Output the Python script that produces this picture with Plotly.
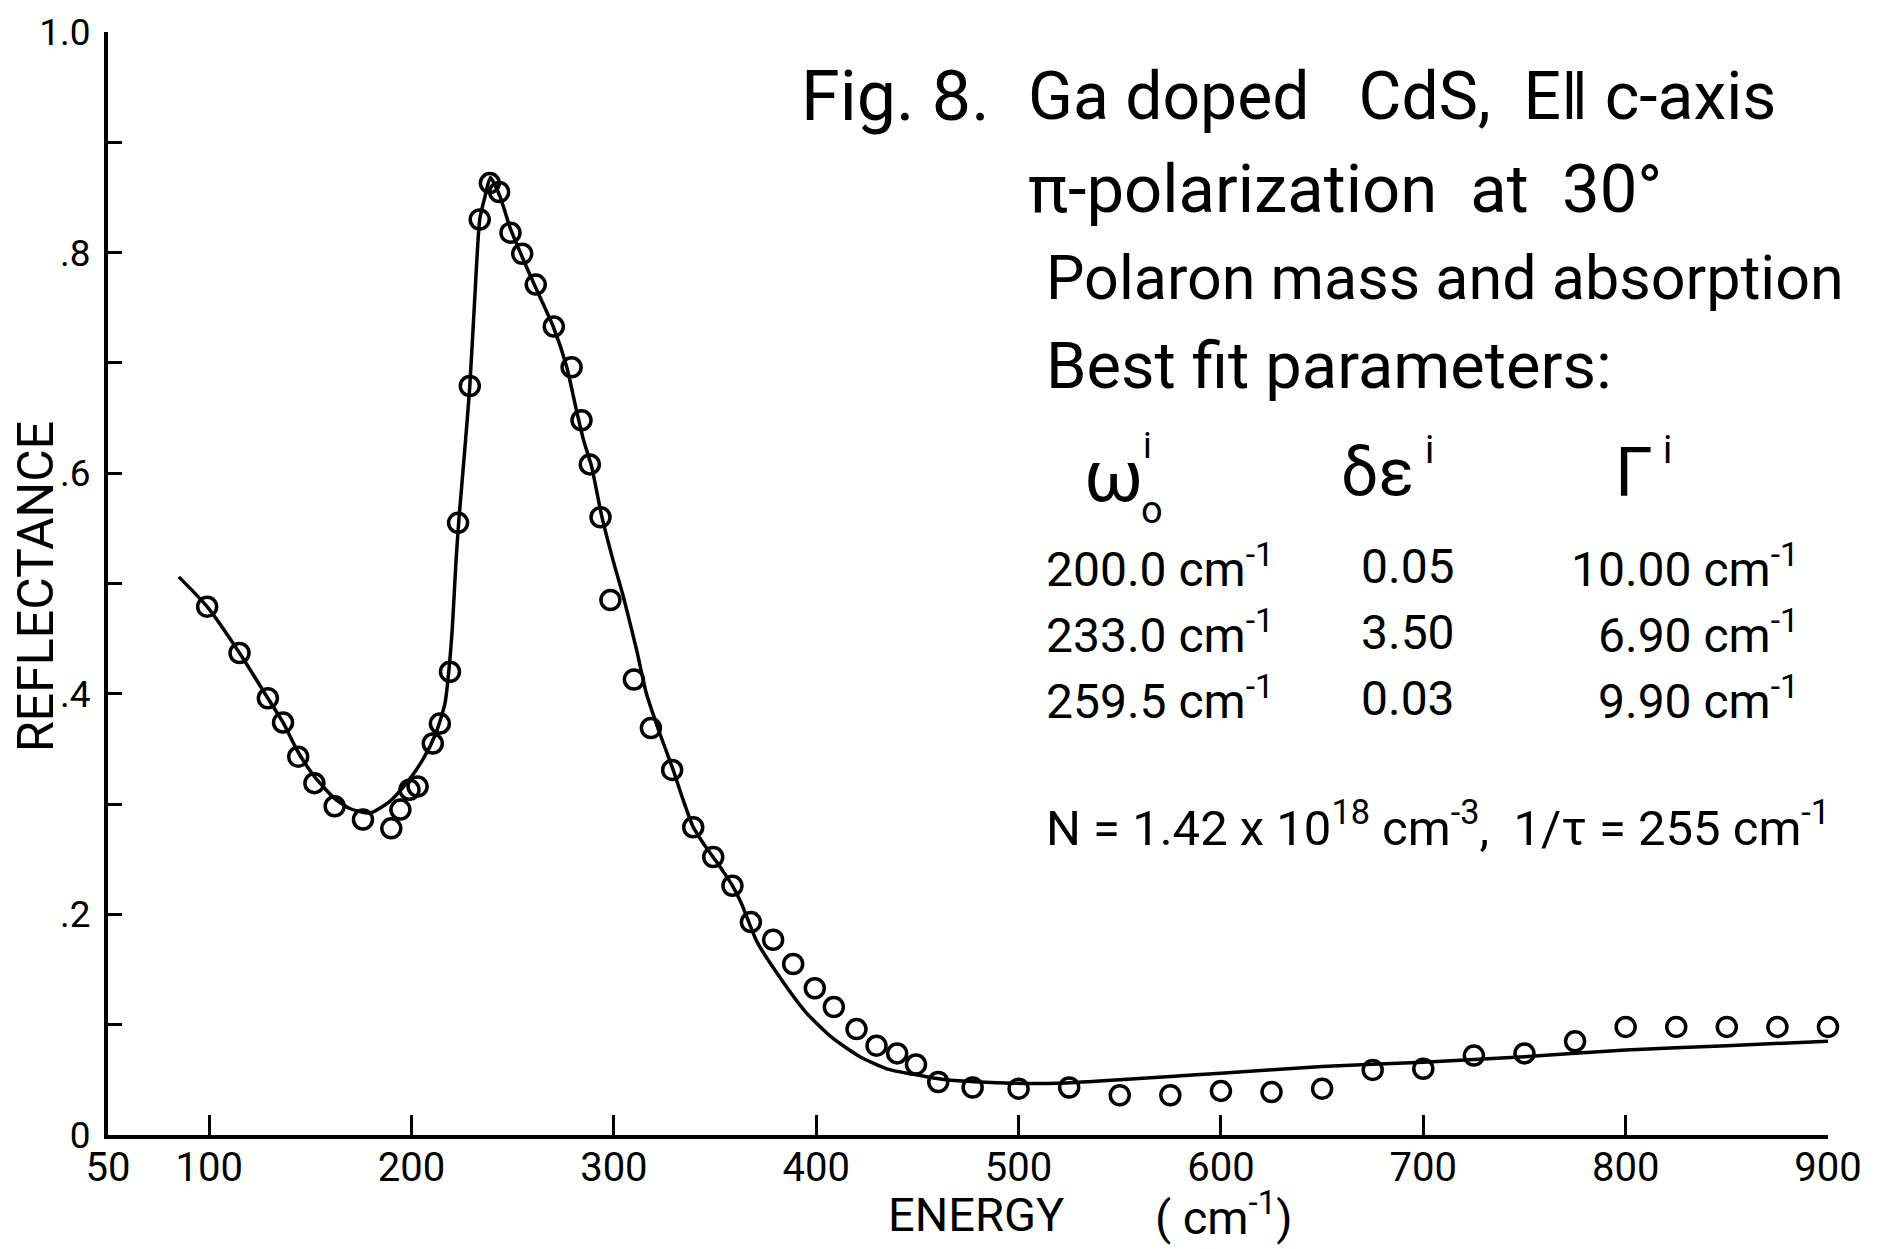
import plotly.graph_objects as go

# ---------------- data ----------------
meas_energy = [99, 115, 129, 136.5, 144, 152, 162, 176, 190, 194.5, 199, 203,
               210.5, 214, 219, 223, 228.8, 233.7, 238.7, 243.3, 248.9, 254.7,
               261.4, 270.3, 279.1, 284, 288.1, 293.4, 298.3, 309.9, 318.3,
               328.8, 339.2, 349.1, 358.6, 367.7, 378.7, 388.6, 399.3, 408.7,
               419.9, 429.8, 440, 449.3, 460.3, 477.3, 500, 525, 550, 575, 600,
               625, 650, 675, 700, 725, 750, 775, 800, 825, 850, 875, 900]
meas_refl = [0.479, 0.437, 0.396, 0.374, 0.343, 0.319, 0.298, 0.286, 0.278,
             0.295, 0.313, 0.316, 0.355, 0.373, 0.420, 0.555, 0.679, 0.830,
             0.863, 0.855, 0.818, 0.799, 0.771, 0.733, 0.696, 0.648, 0.608,
             0.560, 0.485, 0.413, 0.369, 0.331, 0.279, 0.252, 0.226, 0.193,
             0.177, 0.155, 0.133, 0.116, 0.096, 0.081, 0.074, 0.064, 0.048,
             0.043, 0.042, 0.043, 0.036, 0.036, 0.040, 0.039, 0.042, 0.059,
             0.060, 0.072, 0.074, 0.085, 0.098, 0.098, 0.098, 0.098, 0.098]

fit_energy = [85, 99, 115, 129, 136.5, 144, 152, 162, 169.5, 179.5, 189, 197.5,
              205.5, 212, 216.5, 218.5, 220.2, 222, 223.5, 226.3, 228.8, 231.2,
              233.7, 236.2, 239, 243.7, 249, 254.7, 261.4, 270, 276.6, 281.5,
              285, 289, 294, 299.6, 304.7, 311.2, 316.1, 322.7, 329.3, 334,
              339, 344, 349, 354, 358.6, 363, 370.5, 382, 395, 408, 421.6,
              434.8, 448, 464, 481, 497, 519, 540, 575, 600, 650, 700, 750,
              800, 850, 900]
fit_refl = [0.506, 0.479, 0.437, 0.396, 0.374, 0.347, 0.325, 0.305, 0.296,
            0.292, 0.302, 0.319, 0.340, 0.364, 0.391, 0.422, 0.461, 0.521,
            0.560, 0.621, 0.679, 0.757, 0.830, 0.850, 0.868, 0.851, 0.821,
            0.796, 0.768, 0.733, 0.697, 0.657, 0.630, 0.606, 0.561, 0.521,
            0.488, 0.440, 0.400, 0.364, 0.331, 0.305, 0.280, 0.265, 0.252,
            0.239, 0.226, 0.210, 0.176, 0.143, 0.111, 0.088, 0.071, 0.060,
            0.055, 0.050, 0.048, 0.047, 0.047, 0.049, 0.053, 0.056, 0.062,
            0.066, 0.071, 0.077, 0.081, 0.085]

x_tickvals = [50, 100, 200, 300, 400, 500, 600, 700, 800, 900]
x_ticktext = ["50", "100", "200", "300", "400", "500", "600", "700", "800", "900"]
y_tickvals = [0, 0.2, 0.4, 0.6, 0.8, 1.0]
y_ticktext = ["0", ".2", ".4", ".6", ".8", "1.0"]
y_minor_vals = [0.1, 0.3, 0.5, 0.7, 0.9]

fig_label = "Fig. 8."
title_lines = ["Ga doped&nbsp;&nbsp; CdS,&nbsp; E\u2016 c-axis",
               "\u03c0-polarization&nbsp; at&nbsp; 30\u00b0",
               "Polaron mass and absorption",
               "Best fit parameters:"]
omega0 = ["200.0 cm<sup>-1</sup>", "233.0 cm<sup>-1</sup>", "259.5 cm<sup>-1</sup>"]
d_eps = ["0.05", "3.50", "0.03"]
gammas = ["10.00 cm<sup>-1</sup>", "6.90 cm<sup>-1</sup>", "9.90 cm<sup>-1</sup>"]
n_line = "N = 1.42 x 10<sup>18</sup> cm<sup>-3</sup>,&nbsp; 1/\u03c4 = 255 cm<sup>-1</sup>"
x_title_word = "ENERGY"
x_title_unit = "( cm<sup>-1</sup>)"
y_title = "REFLECTANCE"

# ---------------- figure ----------------
W, H = 1877, 1249
L, R, T, B = 108, 49, 32, 114
PW, PH = W - L - R, H - T - B

def px(x):   # full-pixel x -> paper
    return (x - L) / PW

def py(y):   # full-pixel y -> paper
    return (H - B - y) / PH

FONT = "Roboto, Liberation Sans, sans-serif"

fig = go.Figure()
fig.add_trace(go.Scatter(x=fit_energy, y=fit_refl, mode="lines",
                         line=dict(color="black", width=3.5, shape="spline", smoothing=0.6),
                         cliponaxis=False, showlegend=False))
fig.add_trace(go.Scatter(x=meas_energy, y=meas_refl, mode="markers",
                         marker=dict(symbol="circle-open", size=19, color="black",
                                     line=dict(width=3.5, color="black")),
                         cliponaxis=False, showlegend=False))

ann = []
def add(text, x, y, size, xanchor="left", yanchor="middle", angle=0, family=FONT):
    ann.append(dict(text=text, x=px(x), y=py(y), xref="paper", yref="paper",
                    showarrow=False, xanchor=xanchor, yanchor=yanchor,
                    textangle=angle, borderpad=0,
                    font=dict(family=family, size=size, color="black")))

add(fig_label, 800, 96, 70)
line_x = [1027, 1027, 1045, 1045]
line_y = [96, 189, 278, 366]
line_size = [66, 67, 61, 65]
for t, lx, ly, ls in zip(title_lines, line_x, line_y, line_size):
    add(t, lx, ly, ls)

# table header
add("\u03c9", 1083, 476, 72)
add("i", 1142, 446, 36)
add("o", 1140, 510, 38)
add("\u03b4\u03b5", 1340, 473, 66)
add("i", 1424, 450, 38)
add("\u0393", 1614, 473, 68)
add("i", 1662, 450, 38)

row_y = [566, 632, 698]
for a, b, c, ry in zip(omega0, d_eps, gammas, row_y):
    add(a, 1045, ry, 48)
    add(b, 1360, ry, 48)
    add(c, 1800, ry, 48, xanchor="right")

add(n_line, 1045, 824, 49)

# axis titles
add(y_title, 36, 587, 50, xanchor="center", angle=-90)
add(x_title_word, 976, 1214, 47, xanchor="center")
add(x_title_unit, 1224, 1214, 47, xanchor="center")

fig.update_layout(
    width=W, height=H,
    margin=dict(l=L, r=R, t=T, b=B, pad=0),
    paper_bgcolor="white", plot_bgcolor="white",
    annotations=ann,
    xaxis=dict(range=[50, 900], showgrid=False, zeroline=False,
               showline=True, linecolor="black", linewidth=4,
               ticks="inside", ticklen=20, tickwidth=3, tickcolor="black",
               tickvals=x_tickvals, ticktext=x_ticktext,
               tickfont=dict(family=FONT, size=40, color="black"),
               ticklabelstandoff=-6),
    yaxis=dict(range=[0, 1.0], showgrid=False, zeroline=False,
               showline=True, linecolor="black", linewidth=4,
               ticks="inside", ticklen=14, tickwidth=3, tickcolor="black",
               tickvals=y_tickvals, ticktext=y_ticktext,
               minor=dict(tickvals=y_minor_vals, ticks="inside", ticklen=14,
                          tickwidth=3, tickcolor="black", showgrid=False),
               tickfont=dict(family=FONT, size=37, color="black"),
               ticklabelstandoff=6),
)

fig.write_html("out.html")
